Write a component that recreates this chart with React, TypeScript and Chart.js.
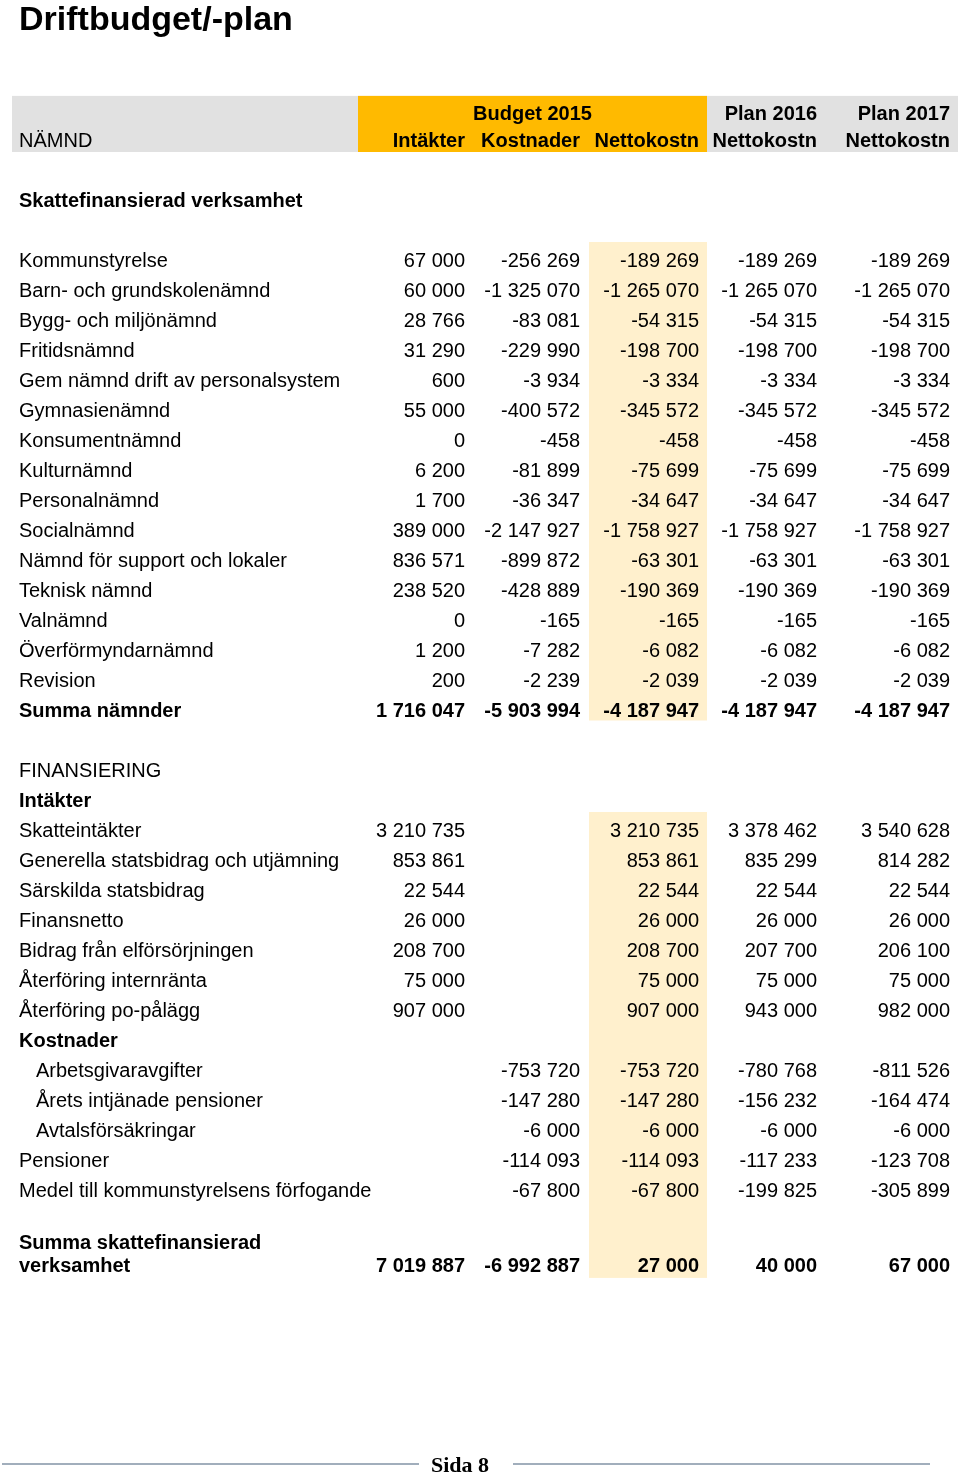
import { useEffect, useRef } from "react";
import { Chart, registerables } from "chart.js";

Chart.register(...registerables);

// ---------- Data ----------
const TITLE = "Driftbudget/-plan";
const FIRST_COLUMN = "NÄMND";
const BUDGET_GROUP = "Budget 2015";
const COLUMN_GROUPS = ["", "", "", "Plan 2016", "Plan 2017"];
const COLUMN_NAMES = ["Intäkter", "Kostnader", "Nettokostn", "Nettokostn", "Nettokostn"];
const FOOTER = "Sida 8";

const rowLabels: string[] = [
  "Skattefinansierad verksamhet", "",
  "Kommunstyrelse", "Barn- och grundskolenämnd", "Bygg- och miljönämnd", "Fritidsnämnd",
  "Gem nämnd drift av personalsystem", "Gymnasienämnd", "Konsumentnämnd", "Kulturnämnd",
  "Personalnämnd", "Socialnämnd", "Nämnd för support och lokaler", "Teknisk nämnd",
  "Valnämnd", "Överförmyndarnämnd", "Revision", "Summa nämnder", "",
  "FINANSIERING", "Intäkter", "Skatteintäkter", "Generella statsbidrag och utjämning",
  "Särskilda statsbidrag", "Finansnetto", "Bidrag från elförsörjningen",
  "Återföring internränta", "Återföring po-pålägg", "Kostnader",
  "Arbetsgivaravgifter", "Årets intjänade pensioner", "Avtalsförsäkringar",
  "Pensioner", "Medel till kommunstyrelsens förfogande", "",
  "Summa skattefinansierad\nverksamhet",
];

const rowKinds: string[] = [
  "heading", "blank",
  "item", "item", "item", "item", "item", "item", "item", "item",
  "item", "item", "item", "item", "item", "item", "item", "sum", "blank",
  "plain", "heading", "item", "item", "item", "item", "item", "item", "item", "heading",
  "indent", "indent", "indent", "item", "item", "blank", "total",
];

const intakter: (number | null)[] = [
  null, null,
  67000, 60000, 28766, 31290, 600, 55000, 0, 6200, 1700, 389000, 836571, 238520, 0, 1200, 200,
  1716047, null,
  null, null, 3210735, 853861, 22544, 26000, 208700, 75000, 907000, null,
  null, null, null, null, null, null, 7019887,
];

const kostnader: (number | null)[] = [
  null, null,
  -256269, -1325070, -83081, -229990, -3934, -400572, -458, -81899, -36347, -2147927, -899872, -428889, -165, -7282, -2239,
  -5903994, null,
  null, null, null, null, null, null, null, null, null, null,
  -753720, -147280, -6000, -114093, -67800, null, -6992887,
];

const netto2015: (number | null)[] = [
  null, null,
  -189269, -1265070, -54315, -198700, -3334, -345572, -458, -75699, -34647, -1758927, -63301, -190369, -165, -6082, -2039,
  -4187947, null,
  null, null, 3210735, 853861, 22544, 26000, 208700, 75000, 907000, null,
  -753720, -147280, -6000, -114093, -67800, null, 27000,
];

const plan2016: (number | null)[] = [
  null, null,
  -189269, -1265070, -54315, -198700, -3334, -345572, -458, -75699, -34647, -1758927, -63301, -190369, -165, -6082, -2039,
  -4187947, null,
  null, null, 3378462, 835299, 22544, 26000, 207700, 75000, 943000, null,
  -780768, -156232, -6000, -117233, -199825, null, 40000,
];

const plan2017: (number | null)[] = [
  null, null,
  -189269, -1265070, -54315, -198700, -3334, -345572, -458, -75699, -34647, -1758927, -63301, -190369, -165, -6082, -2039,
  -4187947, null,
  null, null, 3540628, 814282, 22544, 26000, 206100, 75000, 982000, null,
  -811526, -164474, -6000, -123708, -305899, null, 67000,
];

const valueColumns = [intakter, kostnader, netto2015, plan2016, plan2017];

// ---------- Layout / style ----------
const PAGE_W = 960;
const PAGE_H = 1474;
const ROW_PX = 30;
const FIRST_ROW_PX = 200; // centre of row 0
const TEXT_DY = 1;
const COL_RIGHT = [465, 580, 699, 817, 950];
const LABEL_X = 19;
const INDENT_X = 36;
const SANS = '"Liberation Sans", Arial, Helvetica, sans-serif';
const SERIF = '"Liberation Serif", "Times New Roman", serif';
const GREY = "#E1E1E1";
const GOLD = "#FFBA00";
const PALE = "#FFF0CD";

const fmt = (v: number) => {
  const s = String(Math.abs(v)).replace(/\B(?=(\d{3})+(?!\d))/g, " ");
  return (v < 0 ? "-" : "") + s;
};

const isBold = (k: string) => k === "heading" || k === "sum" || k === "total";

const tablePlugin = {
  id: "tablePlugin",
  beforeDatasetsDraw(chart: any) {
    const { ctx, scales } = chart;
    const x = scales.x;
    const y = scales.y;
    const rect = (x0: number, x1: number, r0: number, r1: number, color: string) => {
      const px0 = x.getPixelForValue(x0);
      const px1 = x.getPixelForValue(x1);
      const py0 = y.getPixelForValue(r0);
      const py1 = y.getPixelForValue(r1);
      ctx.fillStyle = color;
      ctx.fillRect(px0, py0, px1 - px0, py1 - py0);
    };
    ctx.save();
    // header bands
    rect(12, 958, -3.47, -1.6, GREY);
    rect(358, 707, -3.47, -1.6, GOLD);
    // highlighted budget net column
    rect(589, 707, 2 - 0.6, 17 + 0.35, PALE);
    rect(589, 707, 21 - 0.6, 35 + 0.93, PALE);
    ctx.restore();
  },
  afterDatasetsDraw(chart: any) {
    const { ctx, scales } = chart;
    const x = scales.x;
    const y = scales.y;
    ctx.save();
    ctx.fillStyle = "#000";
    ctx.textBaseline = "middle";

    // title
    ctx.font = `bold 34px ${SANS}`;
    ctx.textAlign = "left";
    ctx.fillText(TITLE, x.getPixelForValue(LABEL_X), y.getPixelForValue(-6.06) + 2);

    // header
    ctx.font = `20px ${SANS}`;
    ctx.fillText(FIRST_COLUMN, x.getPixelForValue(LABEL_X), y.getPixelForValue(-2) + TEXT_DY);
    ctx.font = `bold 20px ${SANS}`;
    ctx.textAlign = "center";
    ctx.fillText(BUDGET_GROUP, (x.getPixelForValue(358) + x.getPixelForValue(707)) / 2, y.getPixelForValue(-2.87) + TEXT_DY);
    ctx.textAlign = "right";
    COLUMN_NAMES.forEach((name, c) => {
      ctx.fillText(name, x.getPixelForValue(COL_RIGHT[c]), y.getPixelForValue(-2) + TEXT_DY);
      if (COLUMN_GROUPS[c]) ctx.fillText(COLUMN_GROUPS[c], x.getPixelForValue(COL_RIGHT[c]), y.getPixelForValue(-2.87) + TEXT_DY);
    });

    // cells
    chart.data.datasets.forEach((ds: any, d: number) => {
      const meta = chart.getDatasetMeta(d);
      meta.data.forEach((el: any, i: number) => {
        const raw = ds.data[i];
        const kind = raw.kind;
        ctx.font = `${isBold(kind) ? "bold " : ""}20px ${SANS}`;
        const shift = (kind === "total" ? y.getPixelForValue(raw.y + 0.5) - el.y : 0) + TEXT_DY;
        if (ds.label === "labels") {
          ctx.textAlign = "left";
          const lines = String(raw.text).split("\n");
          lines.forEach((ln: string, j: number) => {
            ctx.fillText(ln, el.x, el.y + shift - (lines.length - 1 - j) * 23);
          });
        } else {
          ctx.textAlign = "right";
          ctx.fillText(fmt(raw.v), el.x, el.y + shift);
        }
      });
    });

    // footer
    const fy = y.getPixelForValue(42.13);
    ctx.strokeStyle = "#8394A6";
    ctx.lineWidth = 1.5;
    ctx.beginPath();
    ctx.moveTo(x.getPixelForValue(2), fy);
    ctx.lineTo(x.getPixelForValue(419), fy);
    ctx.moveTo(x.getPixelForValue(513), fy);
    ctx.lineTo(x.getPixelForValue(930), fy);
    ctx.stroke();
    ctx.font = `bold 22px ${SERIF}`;
    ctx.textAlign = "center";
    ctx.fillStyle = "#000";
    ctx.fillText(FOOTER, x.getPixelForValue(460), fy + 2);
    ctx.restore();
  },
};

export default function App() {
  const ref = useRef<HTMLCanvasElement>(null);
  useEffect(() => {
    const labelData = rowLabels
      .map((text, i) => ({
        x: rowKinds[i] === "indent" ? INDENT_X : LABEL_X,
        y: i,
        text,
        kind: rowKinds[i],
      }))
      .filter((p) => p.text !== "");
    const valueSets = valueColumns.map((col, c) => ({
      label: COLUMN_NAMES[c] + " " + c,
      data: col
        .map((v, i) => ({ x: COL_RIGHT[c], y: i, v, kind: rowKinds[i] }))
        .filter((p) => p.v !== null),
      pointRadius: 0,
      showLine: false,
    }));
    const chart = new Chart(ref.current as HTMLCanvasElement, {
      type: "scatter",
      data: {
        datasets: [
          { label: "labels", data: labelData, pointRadius: 0, showLine: false } as any,
          ...(valueSets as any[]),
        ],
      },
      options: {
        animation: false,
        responsive: true,
        maintainAspectRatio: false,
        events: [],
        layout: { padding: 0 },
        plugins: { legend: { display: false }, tooltip: { enabled: false } },
        scales: {
          x: { type: "linear", min: 0, max: PAGE_W, display: false },
          y: {
            type: "linear",
            reverse: true,
            min: -FIRST_ROW_PX / ROW_PX,
            max: (PAGE_H - FIRST_ROW_PX) / ROW_PX,
            display: false,
          },
        },
      },
      plugins: [tablePlugin],
    });
    return () => chart.destroy();
  }, []);
  return (
    <div style={{ position: "absolute", left: 0, top: 0, width: PAGE_W, height: PAGE_H, background: "#fff" }}>
      <canvas ref={ref} style={{ display: "block" }} />
    </div>
  );
}
